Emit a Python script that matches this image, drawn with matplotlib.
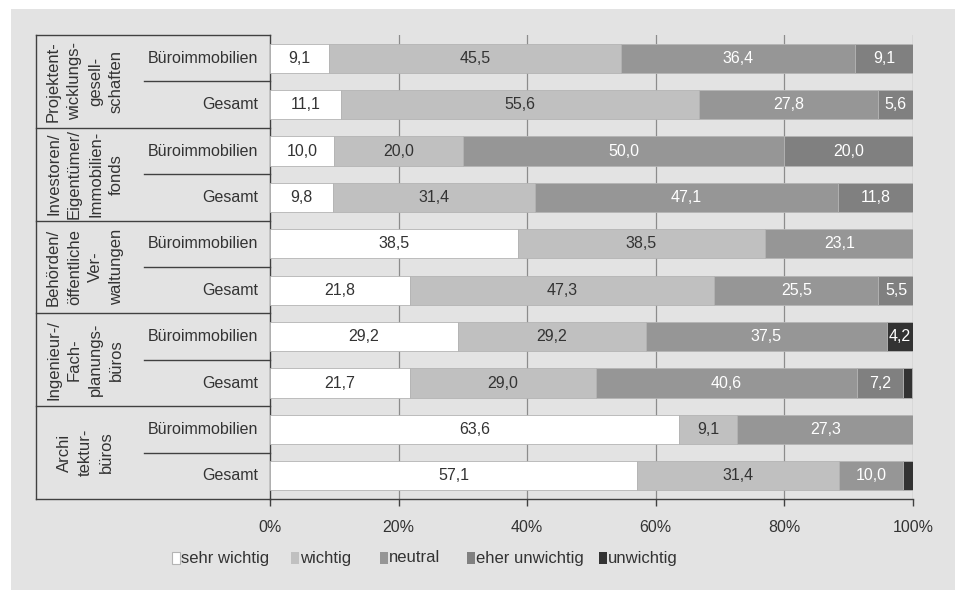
import matplotlib
matplotlib.use("Agg")
import matplotlib.pyplot as plt
from matplotlib.patches import Rectangle
from matplotlib.lines import Line2D
import numpy as np

plt.rcParams['font.family'] = ['Liberation Sans', 'DejaVu Sans']

groups = ["Projektent-\nwicklungs-\ngesell-\nschaften",
          "Investoren/\nEigentümer/\nImmobilien-\nfonds",
          "Behörden/\nöffentliche\nVer-\nwaltungen",
          "Ingenieur-/\nFach-\nplanungs-\nbüros",
          "Archi\ntektur-\nbüros"]
sublabels = ["Büroimmobilien", "Gesamt"]
series = ["sehr wichtig", "wichtig", "neutral", "eher unwichtig", "unwichtig"]

sehr_wichtig   = [9.1, 11.1, 10.0, 9.8, 38.5, 21.8, 29.2, 21.7, 63.6, 57.1]
wichtig        = [45.5, 55.6, 20.0, 31.4, 38.5, 47.3, 29.2, 29.0, 9.1, 31.4]
neutral        = [36.4, 27.8, 50.0, 47.1, 23.1, 25.5, 37.5, 40.6, 27.3, 10.0]
eher_unwichtig = [9.1, 5.6, 20.0, 11.8, 0.0, 5.5, 0.0, 7.2, 0.0, 0.0]
unwichtig      = [0.0, 0.0, 0.0, 0.0, 0.0, 0.0, 4.2, 1.4, 0.0, 1.5]

xticks = [0, 20, 40, 60, 80, 100]
xticklabels = ["0%", "20%", "40%", "60%", "80%", "100%"]

colors = ["#ffffff", "#c0c0c0", "#969696", "#808080", "#333333"]
textcolors = ["#333333", "#333333", "#ffffff", "#ffffff", "#ffffff"]

W, H = 955, 590
fig = plt.figure(figsize=(W / 100, H / 100), dpi=100)
fig.patch.set_facecolor("white")
bg = "#e3e3e3"
fig.patches.append(Rectangle((11 / W, 0), 1 - 11 / W, 1 - 9 / H, transform=fig.transFigure,
                             facecolor=bg, edgecolor="none", zorder=-10))

x0, x1, ytop, ybot = 270, 913, 35, 499
ax = fig.add_axes([x0 / W, 1 - ybot / H, (x1 - x0) / W, (ybot - ytop) / H])
ax.set_facecolor(bg)

data = [sehr_wichtig, wichtig, neutral, eher_unwichtig, unwichtig]
n = len(sehr_wichtig)
y = np.arange(n)
left = np.zeros(n)
for k, vals in enumerate(data):
    vals = np.array(vals)
    ax.barh(y, vals, left=left, height=0.63, color=colors[k], edgecolor="#b4b4b4",
            linewidth=0.6, zorder=3)
    for i in range(n):
        if vals[i] >= 2:
            ax.text(left[i] + vals[i] / 2, y[i], f"{vals[i]:.1f}".replace(".", ","),
                    ha="center", va="center", fontsize=11.5, color=textcolors[k], zorder=4)
    left = left + vals

ax.set_xlim(0, 100)
ax.set_ylim(n - 0.5, -0.5)
ax.set_yticks([])
ax.set_xticks(xticks)
ax.set_xticklabels(xticklabels, fontsize=11.5, color="#333333")
ax.tick_params(axis="x", length=5, width=1, color="#404040", pad=10)
for xv in xticks[1:]:
    ax.axvline(xv, color="#8c8c8c", linewidth=0.9, zorder=1)
for s in ["top", "right"]:
    ax.spines[s].set_visible(False)
ax.spines["bottom"].set_color("#404040")
ax.spines["left"].set_color("#404040")
ax.spines["bottom"].set_linewidth(1)
ax.spines["left"].set_linewidth(1)

# left table
tr = ax.get_yaxis_transform()
xa = (36 - x0) / (x1 - x0)
xb = (144 - x0) / (x1 - x0)
lc = "#404040"
for g in range(len(groups) + 1):
    yy = g * 2 - 0.5
    ax.add_line(Line2D([xa, 0], [yy, yy], transform=tr, color=lc, lw=1, clip_on=False))
for g in range(len(groups)):
    yy = g * 2 + 0.5
    ax.add_line(Line2D([xb, 0], [yy, yy], transform=tr, color=lc, lw=1, clip_on=False))
ax.add_line(Line2D([xa, xa], [-0.5, n - 0.5], transform=tr, color=lc, lw=1, clip_on=False))

xg = (85 - x0) / (x1 - x0)
xs = (258 - x0) / (x1 - x0)
for g, name in enumerate(groups):
    ax.text(xg, g * 2 + 0.5, name, transform=tr, rotation=90, ha="center", va="center",
            multialignment="center", fontsize=12, color="#333333", linespacing=1.5)
    for j, sl in enumerate(sublabels):
        ax.text(xs, g * 2 + j, sl, transform=tr, ha="right", va="center",
                fontsize=11.5, color="#333333")

# legend
leg_y = 1 - 558 / H
leg_x = [172, 291, 380, 467, 599]
for k, name in enumerate(series):
    fig.patches.append(Rectangle((leg_x[k] / W, leg_y - 6 / H), 8 / W, 12 / H,
                                 transform=fig.transFigure, facecolor=colors[k],
                                 edgecolor="#b4b4b4" if k == 0 else "none", lw=0.8))
    fig.text((leg_x[k] + 9) / W, leg_y, name, ha="left", va="center",
             fontsize=12, color="#333333")

fig.savefig("out.png", dpi=100, facecolor=fig.get_facecolor())
